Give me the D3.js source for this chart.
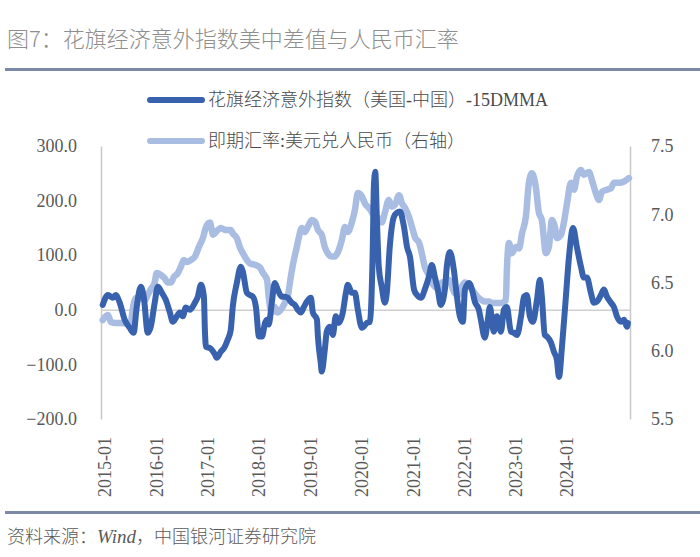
<!DOCTYPE html>
<html><head><meta charset="utf-8">
<script src="https://cdn.jsdelivr.net/npm/d3@7"></script>
<style>
html,body{margin:0;padding:0;background:#fff;}
svg{display:block;}
</style></head>
<body>
<svg id="chart" width="700" height="557"></svg>
<script>
const titleText = "图7：花旗经济意外指数美中差值与人民币汇率";
const sourceText = ["资料来源：", "Wind", "，中国银河证券研究院"];
const seriesNames = ["花旗经济意外指数（美国-中国）-15DMMA", "即期汇率:美元兑人民币（右轴）"];
const leftTicks = [-200, -100, 0, 100, 200, 300];
const rightTicks = [5.5, 6.0, 6.5, 7.0, 7.5];
const xTickDates = ["2015-01-01","2016-01-01","2017-01-01","2018-01-01","2019-01-01","2020-01-01","2021-01-01","2022-01-01","2023-01-01","2024-01-01"];
const xDomain = ["2014-12-04", "2025-03-24"];

const citiDates = ["2014-12-16","2015-01-22","2015-02-27","2015-03-18","2015-04-16","2015-05-21","2015-06-26","2015-07-24","2015-08-15","2015-09-13","2015-10-04","2015-11-02","2015-11-23","2015-12-21",
"2016-01-12","2016-02-10","2016-03-09","2016-04-07","2016-04-28","2016-05-19","2016-06-17","2016-07-08","2016-07-29","2016-08-27","2016-10-02","2016-10-23","2016-11-14","2016-12-05","2016-12-12","2016-12-20",
"2017-01-17","2017-02-22","2017-03-06","2017-04-04","2017-05-02","2017-05-23","2017-06-14","2017-06-28","2017-07-27","2017-08-25","2017-09-08","2017-10-07","2017-10-28","2017-11-19","2017-12-10",
"2018-01-01","2018-01-22","2018-02-13","2018-02-27","2018-03-11","2018-04-02","2018-04-23","2018-05-14","2018-06-12","2018-07-03","2018-07-24","2018-08-22","2018-09-13","2018-10-04","2018-10-25","2018-11-16","2018-12-07",
"2019-01-05","2019-01-19","2019-02-17","2019-02-24","2019-03-16","2019-03-23","2019-04-14","2019-04-28","2019-05-19","2019-06-10","2019-07-01","2019-07-22","2019-08-20","2019-09-11","2019-09-25","2019-10-23","2019-11-14","2019-12-05",
"2020-01-03","2020-02-08","2020-02-29","2020-03-20","2020-03-28","2020-04-07","2020-04-18","2020-05-02","2020-05-23","2020-06-14","2020-06-28","2020-07-19","2020-08-17","2020-09-08","2020-09-30","2020-10-28","2020-11-19","2020-12-10",
"2021-01-08","2021-01-29","2021-02-27","2021-03-25","2021-04-23","2021-05-14","2021-06-05","2021-06-26","2021-07-17","2021-08-15","2021-08-29","2021-09-20","2021-10-18","2021-11-09","2021-11-30","2021-12-21",
"2022-01-05","2022-02-03","2022-02-24","2022-03-16","2022-04-14","2022-04-28","2022-05-26","2022-06-17","2022-07-01","2022-07-29","2022-08-20","2022-09-18","2022-10-09","2022-10-30","2022-11-28","2022-12-19",
"2023-01-10","2023-02-08","2023-03-01","2023-03-21","2023-04-12","2023-05-03","2023-06-01","2023-06-22","2023-07-06","2023-07-27","2023-08-11","2023-09-09","2023-09-30","2023-10-21","2023-11-05","2023-11-26","2023-12-24",
"2024-01-15","2024-02-13","2024-03-11","2024-04-09","2024-04-30","2024-05-21","2024-06-19","2024-07-10","2024-08-01","2024-08-29","2024-09-20","2024-10-11","2024-11-09","2024-11-30","2024-12-21",
"2025-01-19","2025-02-10","2025-03-02","2025-03-09"];
const citiValues = [9,27,22,27,13,-18,-33,-42,5,42,24,-42,-31,13,
42,31,18,-5,-22,-15,-5,-12,4,0,13,24,46,24,-37,-68,
-70,-82,-88,-77,-68,-55,-37,5,49,79,70,31,27,24,5,
-49,-49,-24,-18,-27,13,49,37,24,24,22,13,9,0,-5,5,15,
22,-5,-18,-49,-97,-113,-73,-40,-31,-46,-12,-24,-5,31,46,31,31,0,
-33,-24,-22,110,225,253,170,79,42,13,31,115,170,178,180,152,115,97,
37,27,22,37,60,82,60,37,9,37,79,106,73,24,-12,-22,
37,49,37,15,0,-18,-51,-18,5,-40,-12,-40,0,5,-40,-42,
-46,-12,24,27,-12,-22,18,55,24,-46,-49,-60,-77,-92,-123,-68,24,
97,150,115,79,59,59,31,13,15,27,37,24,13,5,-12,
-22,-18,-31,-24];

const fxDates = ["2014-12-16","2015-01-22","2015-02-13","2015-03-18","2015-04-23","2015-06-12","2015-07-03","2015-07-17","2015-08-08","2015-09-06","2015-10-11","2015-11-02","2015-11-23","2015-12-21",
"2016-01-05","2016-02-03","2016-03-02","2016-03-23","2016-04-14","2016-05-05","2016-06-03","2016-06-24","2016-07-15","2016-08-06","2016-09-04","2016-10-02","2016-10-30","2016-11-28","2016-12-20",
"2017-01-17","2017-02-08","2017-03-01","2017-04-04","2017-05-09","2017-06-14","2017-06-28","2017-07-27","2017-08-17","2017-09-08","2017-10-07","2017-10-28","2017-12-03",
"2018-01-08","2018-01-29","2018-02-27","2018-03-11","2018-04-02","2018-04-23","2018-05-14","2018-06-12","2018-07-03","2018-07-24","2018-08-15","2018-09-06","2018-09-27","2018-10-11","2018-11-02","2018-11-23","2018-12-14",
"2019-01-12","2019-02-03","2019-02-24","2019-03-23","2019-04-14","2019-05-05","2019-06-03","2019-06-24","2019-07-15","2019-08-13","2019-09-04","2019-09-25","2019-10-23","2019-11-14","2019-12-05",
"2020-01-03","2020-01-24","2020-02-22","2020-03-13","2020-04-04","2020-05-02","2020-05-23","2020-06-14","2020-07-12","2020-08-03","2020-08-25","2020-09-23","2020-10-14","2020-11-05","2020-12-03","2020-12-24",
"2021-01-15","2021-02-13","2021-03-04","2021-03-25","2021-04-23","2021-05-14","2021-06-05","2021-07-03","2021-07-24","2021-08-15","2021-09-13","2021-10-04","2021-10-25","2021-11-23","2021-12-14",
"2022-01-05","2022-02-03","2022-02-24","2022-03-16","2022-04-14","2022-05-05","2022-05-26","2022-06-24","2022-07-15","2022-08-06","2022-09-18","2022-10-23","2022-10-30","2022-11-14","2022-12-05",
"2023-01-04","2023-01-25","2023-02-15","2023-03-14","2023-04-05","2023-04-26","2023-05-24","2023-06-15","2023-07-06","2023-08-04","2023-08-25","2023-09-16","2023-10-07","2023-10-21","2023-11-19","2023-12-10",
"2024-01-01","2024-01-29","2024-02-20","2024-03-11","2024-04-09","2024-04-30","2024-06-05","2024-06-26","2024-07-24","2024-08-15","2024-09-06","2024-10-11","2024-11-09","2024-11-30",
"2025-01-05","2025-02-10","2025-03-16"];
const fxValues = [6.225,6.262,6.21,6.203,6.203,6.20,6.20,6.30,6.386,6.39,6.37,6.41,6.45,6.50,
6.57,6.555,6.53,6.50,6.50,6.54,6.57,6.615,6.665,6.65,6.665,6.69,6.76,6.826,6.907,
6.94,6.85,6.87,6.90,6.885,6.885,6.86,6.826,6.76,6.715,6.665,6.64,6.63,
6.61,6.57,6.52,6.395,6.28,6.32,6.28,6.31,6.35,6.395,6.54,6.665,6.76,6.83,6.90,6.87,6.907,
6.958,6.945,6.885,6.85,6.76,6.715,6.69,6.69,6.72,6.81,6.907,6.87,6.94,7.03,7.155,
7.13,7.08,7.045,7.017,6.98,6.97,6.94,7.01,7.105,7.055,7.07,7.14,7.08,7.045,6.98,6.907,
6.83,6.79,6.715,6.615,6.555,6.50,6.47,6.45,6.50,6.505,6.52,6.47,6.42,6.41,6.47,
6.50,6.48,6.45,6.42,6.386,6.37,6.36,6.36,6.35,6.35,6.35,6.37,6.59,6.79,6.715,
6.76,6.75,6.86,6.98,7.23,7.30,7.20,7.01,6.958,6.715,6.76,6.958,6.907,6.826,6.85,6.94,
7.08,7.23,7.18,7.275,7.325,7.29,7.31,7.25,7.155,7.105,7.165,7.18,7.19,7.23,
7.23,7.24,7.265];

const darkColor = "#3862ad";
const lightColor = "#a9bde3";
const tickColor = "#595959";
const ruleColor = "#7c89a6";
const latin = "'Liberation Serif','Times New Roman',serif";
const mixed = "'Liberation Serif','Noto Sans CJK SC',serif";
const cjk = "'Noto Sans CJK SC','Liberation Serif',sans-serif";

const parse = d3.timeParse("%Y-%m-%d");
const svg = d3.select("#chart");

// title and rules
svg.append("text").attr("x", 7).attr("y", 47).attr("font-family", cjk).attr("font-size", 22)
  .attr("font-weight", 300).attr("fill", "#8e8e8e").text(titleText);
svg.append("rect").attr("x", 5).attr("y", 68).attr("width", 695).attr("height", 3).attr("fill", ruleColor);
svg.append("rect").attr("x", 5).attr("y", 511).attr("width", 695).attr("height", 3).attr("fill", ruleColor);

const src = svg.append("text").attr("x", 7).attr("y", 543).attr("font-size", 18).attr("fill", "#5a5a5a")
  .attr("font-weight", 300).attr("font-family", cjk);
src.append("tspan").text(sourceText[0]);
src.append("tspan").attr("font-family", latin).attr("font-style", "italic").attr("font-size", 19).text(sourceText[1]);
src.append("tspan").text(sourceText[2]);

// scales
const x = d3.scaleTime().domain(xDomain.map(parse)).range([101, 630]);
const yL = d3.scaleLinear().domain([-200, 300]).range([419, 146]);
const yR = d3.scaleLinear().domain([5.5, 7.5]).range([419, 146]);

// left axis
const gL = svg.append("g").attr("transform", "translate(101,0)")
  .call(d3.axisLeft(yL).tickValues(leftTicks).tickSize(0).tickPadding(24).tickFormat(d3.format(".1f")));
gL.select(".domain").attr("stroke", "#c8c8c8").attr("stroke-width", 1.5);
gL.selectAll("text").attr("font-family", latin).attr("font-size", 18).attr("fill", tickColor);

// right axis
const gR = svg.append("g").attr("transform", "translate(630,0)")
  .call(d3.axisRight(yR).tickValues(rightTicks).tickSize(0).tickPadding(21).tickFormat(d3.format(".1f")));
gR.select(".domain").attr("stroke", "#c8c8c8").attr("stroke-width", 1.5);
gR.selectAll("text").attr("font-family", latin).attr("font-size", 18).attr("fill", tickColor);

// category axis at zero, labels low
svg.append("g").attr("transform", `translate(0,${yL(0)})`)
  .call(d3.axisBottom(x).tickValues([]).tickSize(0))
  .select(".domain").attr("stroke", "#cfcfcf").attr("stroke-width", 1.5);

const fmt = d3.timeFormat("%Y-%m");
const gX = svg.append("g").attr("transform", "translate(0,437)")
  .call(d3.axisBottom(x).tickValues(xTickDates.map(parse)).tickSize(0).tickFormat(fmt));
gX.select(".domain").remove();
gX.selectAll("text").attr("font-family", latin).attr("font-size", 18).attr("fill", tickColor)
  .attr("transform", "rotate(-90)").attr("text-anchor", "end").attr("x", 0).attr("y", 0).attr("dy", "0.33em");

// series
const fxData = fxDates.map((d, i) => [parse(d), fxValues[i]]);
const citiData = citiDates.map((d, i) => [parse(d), citiValues[i]]);

svg.append("path").datum(fxData)
  .attr("d", d3.line().x(d => x(d[0])).y(d => yR(d[1])).curve(d3.curveMonotoneX))
  .attr("fill", "none").attr("stroke", lightColor).attr("stroke-width", 6.5)
  .attr("stroke-linejoin", "round").attr("stroke-linecap", "round");

svg.append("path").datum(citiData)
  .attr("d", d3.line().x(d => x(d[0])).y(d => yL(d[1])).curve(d3.curveMonotoneX))
  .attr("fill", "none").attr("stroke", darkColor).attr("stroke-width", 6)
  .attr("stroke-linejoin", "round").attr("stroke-linecap", "round");

// legend
const legend = svg.append("g");
[[darkColor, seriesNames[0], 100], [lightColor, seriesNames[1], 141]].forEach(([c, t, yy]) => {
  legend.append("line").attr("x1", 150).attr("x2", 202).attr("y1", yy).attr("y2", yy)
    .attr("stroke", c).attr("stroke-width", 6).attr("stroke-linecap", "round");
  legend.append("text").attr("x", 208).attr("y", yy).attr("dy", "0.35em")
    .attr("font-family", mixed).attr("font-size", 18).attr("font-weight", 300).attr("fill", "#4a4a4a").text(t);
});
</script>
</body></html>
